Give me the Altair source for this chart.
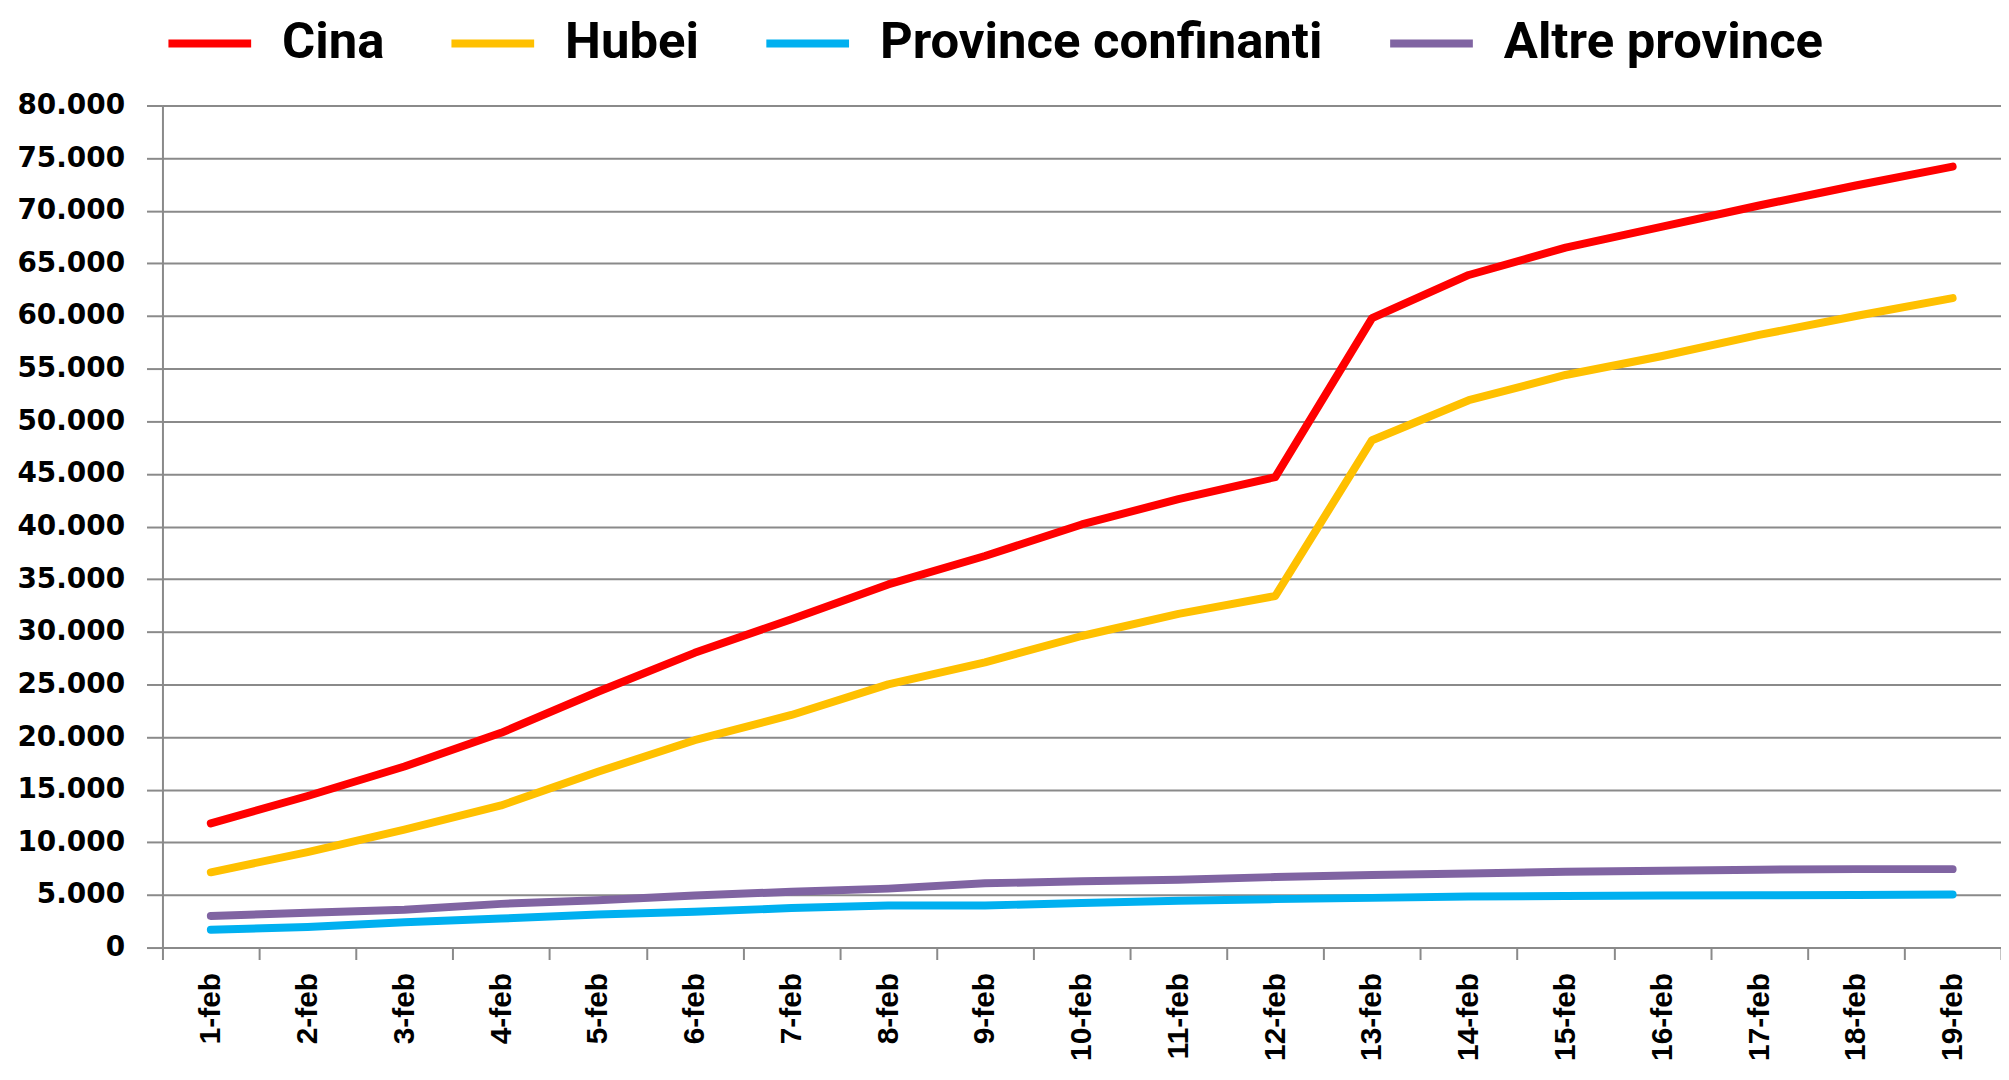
import altair as alt
import pandas as pd

dates = ["1-feb", "2-feb", "3-feb", "4-feb", "5-feb", "6-feb", "7-feb", "8-feb", "9-feb",
         "10-feb", "11-feb", "12-feb", "13-feb", "14-feb", "15-feb", "16-feb", "17-feb",
         "18-feb", "19-feb"]

cina = [11800, 14400, 17200, 20400, 24300, 28000, 31200, 34500, 37200, 40200, 42600,
        44700, 59800, 63900, 66500, 68500, 70500, 72400, 74200]
hubei = [7150, 9070, 11200, 13500, 16700, 19700, 22100, 25000, 27100, 29600, 31700,
         33400, 48200, 52000, 54400, 56200, 58200, 60000, 61700]
confinanti = [1700, 1950, 2400, 2750, 3150, 3400, 3750, 3990, 4000, 4230, 4450,
              4600, 4720, 4840, 4900, 4950, 4970, 5000, 5050]
altre = [3000, 3300, 3600, 4150, 4500, 4950, 5300, 5600, 6100, 6300, 6450,
         6700, 6900, 7030, 7200, 7300, 7400, 7450, 7450]

series = ["Cina", "Hubei", "Province confinanti", "Altre province"]
colors = ["#FF0000", "#FFC000", "#00B0F0", "#8064A2"]
y_ticks = [0, 5000, 10000, 15000, 20000, 25000, 30000, 35000, 40000,
           45000, 50000, 55000, 60000, 65000, 70000, 75000, 80000]

rows = []
for name, vals in zip(series, [cina, hubei, confinanti, altre]):
    for d, v in zip(dates, vals):
        rows.append({"data": d, "serie": name, "valore": v})
df = pd.DataFrame(rows)

GRID = "#8a8a8a"

chart = alt.Chart(df).mark_line(strokeWidth=8, strokeCap="round", strokeJoin="round").encode(
    x=alt.X("data:N", sort=dates, bandPosition=0.5,
            scale=alt.Scale(type="band", paddingInner=0, paddingOuter=0),
            axis=alt.Axis(title=None, labelAngle=-90, labelFont="Liberation Sans",
                          labelFontWeight="bold", labelFontSize=30, labelColor="black",
                          tickBand="extent", ticks=True, tickSize=12, tickColor=GRID,
                          tickWidth=2, domain=False, grid=False, labelPadding=13)),
    y=alt.Y("valore:Q", scale=alt.Scale(domain=[0, 80000], nice=False),
            axis=alt.Axis(title=None, values=y_ticks,
                          labelExpr="replace(format(datum.value, ','), ',', '.')",
                          labelFont="DejaVu Sans", labelFontWeight="bold", labelFontSize=28,
                          labelColor="black", tickSize=16, tickColor=GRID, tickWidth=2,
                          gridColor=GRID, gridWidth=2, domainColor=GRID, domainWidth=2,
                          labelPadding=22)),
    color=alt.Color("serie:N", sort=series,
                    scale=alt.Scale(domain=series, range=colors),
                    legend=alt.Legend(title=None, orient="none", legendX=2, legendY=-108,
                                      direction="horizontal", symbolType="stroke",
                                      symbolSize=6889, symbolStrokeWidth=8,
                                      labelFont="Roboto", labelFontWeight="bold",
                                      labelFontSize=51, labelColor="black", labelOffset=27,
                                      columnPadding=51, padding=0, labelLimit=1000)),
).properties(
    width=1845, height=845,
    autosize=alt.AutoSizeParams(type="none"),
    padding={"left": 155, "top": 96, "right": 0, "bottom": 114},
).configure_view(strokeWidth=0).configure(background="white")

chart.save("out.html", embed_options={"renderer": "svg", "actions": False})
